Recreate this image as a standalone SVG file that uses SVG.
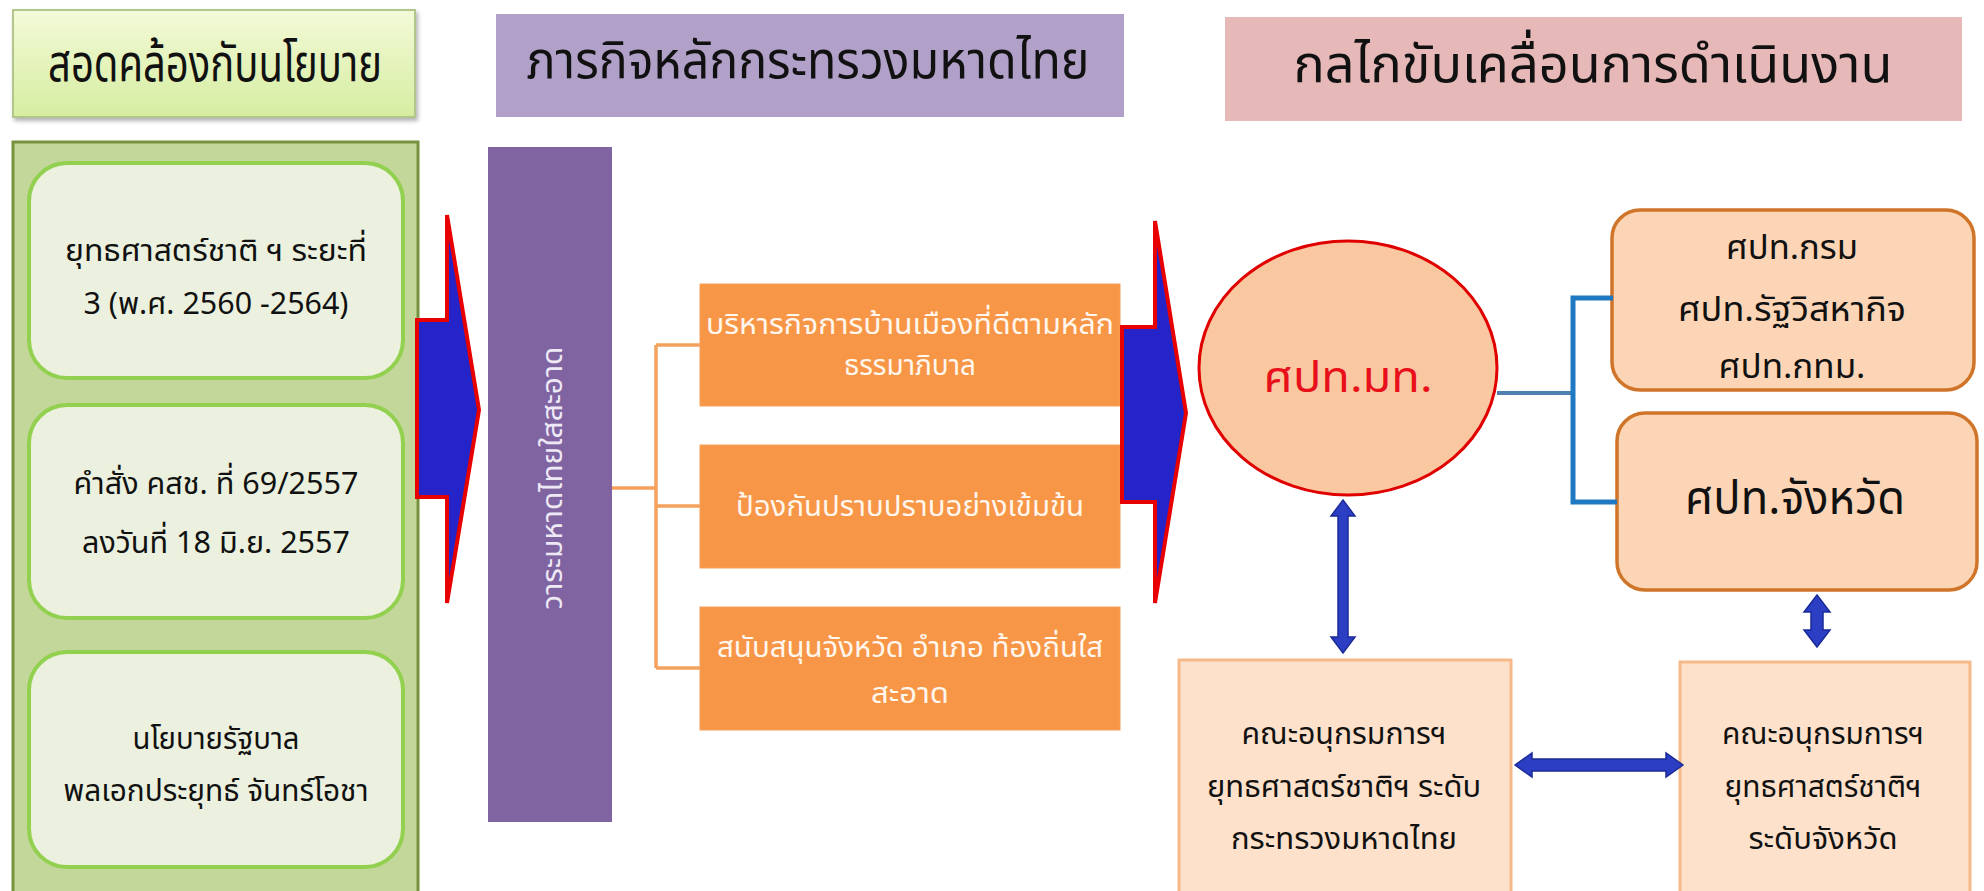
<svg xmlns="http://www.w3.org/2000/svg" width="1984" height="891" viewBox="0 0 1984 891">
  <defs>
    <linearGradient id="gGreen" x1="0" y1="0" x2="0" y2="1">
      <stop offset="0" stop-color="#f3fad8"/>
      <stop offset="1" stop-color="#d6eda0"/>
    </linearGradient>
    <filter id="shadow" x="-5%" y="-10%" width="115%" height="130%">
      <feDropShadow dx="2" dy="3" stdDeviation="2" flood-color="#000" flood-opacity="0.3"/>
    </filter>
  </defs>
  <style>
    text { font-family: "Noto Sans Thai", "Noto Sans Thai UI", Tahoma, "Noto Sans", "DejaVu Sans", sans-serif; text-anchor: middle; }
    .hdr { font-size: 52px; fill: #111; }
    .lt { font-size: 31px; fill: #111; }
    .ot { font-size: 29px; fill: #fff6ee; }
    .rt { font-size: 33px; fill: #111; }
    .bt { font-size: 30px; fill: #111; }
    .inner { fill: #ebf1de; stroke: #92d050; stroke-width: 4; }
    .obox { fill: #f79646; stroke: #f5a05a; stroke-width: 1; }
    .pbox { fill: #fbd5b5; stroke: #cf7428; stroke-width: 3.5; }
    .lbox { fill: #fde1cb; stroke: #f5b98a; stroke-width: 3; }
    .bigarrow { fill: #2424c8; stroke: #e80000; stroke-width: 4; stroke-linejoin: miter; }
    .darrow { fill: #2b3ec4; stroke: #1b2a98; stroke-width: 1.5; }
  </style>

  <!-- Header boxes -->
  <g id="header-policy">
    <rect x="13" y="10" width="402" height="107" fill="url(#gGreen)" stroke="#b2c58a" stroke-width="2" filter="url(#shadow)"/>
    <text class="hdr" x="215" y="81" textLength="334" lengthAdjust="spacingAndGlyphs">สอดคล้องกับนโยบาย</text>
  </g>
  <g id="header-mission">
    <rect x="496" y="14" width="628" height="103" fill="#b1a0c7"/>
    <text class="hdr" x="808" y="78" textLength="563" lengthAdjust="spacingAndGlyphs">ภารกิจหลักกระทรวงมหาดไทย</text>
  </g>
  <g id="header-mechanism">
    <rect x="1225" y="17" width="737" height="104" fill="#e6b9b8"/>
    <text class="hdr" x="1593" y="82" textLength="599" lengthAdjust="spacingAndGlyphs">กลไกขับเคลื่อนการดำเนินงาน</text>
  </g>

  <!-- Left panel -->
  <g id="policy-panel">
    <rect x="13" y="142" width="405" height="760" fill="#c4d79b" stroke="#76923c" stroke-width="3"/>
  </g>
  <g id="policy-strategy">
    <rect class="inner" x="29" y="163" width="374" height="215" rx="38"/>
    <text class="lt" x="216" y="261" textLength="302" lengthAdjust="spacingAndGlyphs">ยุทธศาสตร์ชาติ ฯ ระยะที่</text>
    <text class="lt" x="216" y="314" textLength="265" lengthAdjust="spacingAndGlyphs">3 (พ.ศ. 2560 -2564)</text>
  </g>
  <g id="policy-order">
    <rect class="inner" x="29" y="405" width="374" height="213" rx="38"/>
    <text class="lt" x="216" y="494" textLength="285" lengthAdjust="spacingAndGlyphs">คำสั่ง คสช. ที่ 69/2557</text>
    <text class="lt" x="216" y="553" textLength="268" lengthAdjust="spacingAndGlyphs">ลงวันที่ 18 มิ.ย. 2557</text>
  </g>
  <g id="policy-government">
    <rect class="inner" x="29" y="652" width="374" height="215" rx="38"/>
    <text class="lt" x="216" y="749" textLength="167" lengthAdjust="spacingAndGlyphs">นโยบายรัฐบาล</text>
    <text class="lt" x="216" y="801" textLength="305" lengthAdjust="spacingAndGlyphs">พลเอกประยุทธ์  จันทร์โอชา</text>
  </g>

  <!-- Purple bar -->
  <g id="agenda">
    <rect x="488" y="147" width="124" height="675" fill="#8064a2"/>
    <text x="0" y="0" font-size="28" fill="#eee8f5" transform="translate(562 478) rotate(-90)" textLength="263" lengthAdjust="spacingAndGlyphs">วาระมหาดไทยใสสะอาด</text>
  </g>

  <!-- Orange boxes -->
  <g id="mission-governance">
    <rect class="obox" x="700" y="284" width="420" height="122"/>
    <text class="ot" x="910" y="334" textLength="408" lengthAdjust="spacingAndGlyphs">บริหารกิจการบ้านเมืองที่ดีตามหลัก</text>
    <text class="ot" x="910" y="375" textLength="132" lengthAdjust="spacingAndGlyphs">ธรรมาภิบาล</text>
  </g>
  <g id="mission-prevention">
    <rect class="obox" x="700" y="445" width="420" height="123"/>
    <text class="ot" x="910" y="516" textLength="348" lengthAdjust="spacingAndGlyphs">ป้องกันปราบปราบอย่างเข้มข้น</text>
  </g>
  <g id="mission-support">
    <rect class="obox" x="700" y="607" width="420" height="123"/>
    <text class="ot" x="910" y="657" textLength="386" lengthAdjust="spacingAndGlyphs">สนับสนุนจังหวัด อำเภอ ท้องถิ่นใส</text>
    <text class="ot" x="910" y="703" textLength="78" lengthAdjust="spacingAndGlyphs">สะอาด</text>
  </g>

  <!-- Center circle -->
  <g id="center-moi">
    <ellipse cx="1348" cy="368" rx="149" ry="127" fill="#fac8a0" stroke="#e00000" stroke-width="3"/>
    <text x="1348" y="392" font-size="42" fill="#e8101a" textLength="169" lengthAdjust="spacingAndGlyphs">ศปท.มท.</text>
  </g>

  <!-- Right boxes -->
  <g id="dept-centers">
    <rect class="pbox" x="1612" y="210" width="362" height="180" rx="28"/>
    <text class="rt" x="1792" y="259" textLength="132" lengthAdjust="spacingAndGlyphs">ศปท.กรม</text>
    <text class="rt" x="1792" y="321" textLength="228" lengthAdjust="spacingAndGlyphs">ศปท.รัฐวิสหากิจ</text>
    <text class="rt" x="1792" y="378" textLength="147" lengthAdjust="spacingAndGlyphs">ศปท.กทม.</text>
  </g>
  <g id="province-center">
    <rect class="pbox" x="1617" y="413" width="360" height="177" rx="28"/>
    <text x="1795" y="514" font-size="46" fill="#111" textLength="220" lengthAdjust="spacingAndGlyphs">ศปท.จังหวัด</text>
  </g>

  <!-- Bottom boxes -->
  <g id="committee-ministry">
    <rect class="lbox" x="1179" y="660" width="332" height="240"/>
    <text class="bt" x="1344" y="744" textLength="205" lengthAdjust="spacingAndGlyphs">คณะอนุกรมการฯ</text>
    <text class="bt" x="1344" y="797" textLength="274" lengthAdjust="spacingAndGlyphs">ยุทธศาสตร์ชาติฯ  ระดับ</text>
    <text class="bt" x="1344" y="849" textLength="226" lengthAdjust="spacingAndGlyphs">กระทรวงมหาดไทย</text>
  </g>
  <g id="committee-province">
    <rect class="lbox" x="1680" y="662" width="290" height="240"/>
    <text class="bt" x="1823" y="744" textLength="202" lengthAdjust="spacingAndGlyphs">คณะอนุกรมการฯ</text>
    <text class="bt" x="1823" y="797" textLength="197" lengthAdjust="spacingAndGlyphs">ยุทธศาสตร์ชาติฯ</text>
    <text class="bt" x="1823" y="849" textLength="149" lengthAdjust="spacingAndGlyphs">ระดับจังหวัด</text>
  </g>

  <!-- Connectors -->
  <g id="connectors">
    <polygon class="bigarrow" points="417,320 447,320 447,215 479,410 447,603 447,497 417,497"/>
    <polygon class="bigarrow" points="1122,327 1155,327 1155,221 1186,413 1155,603 1155,502 1122,502"/>
    <path d="M612,488 H656 M656,345 V668 M656,345 H700 M656,506 H700 M656,668 H700" fill="none" stroke="#f4a15e" stroke-width="3.5"/>
    <path d="M1497,393 H1573" fill="none" stroke="#5080b0" stroke-width="4"/>
    <path d="M1613,298 H1573 V502 H1617" fill="none" stroke="#1f78c1" stroke-width="5"/>
    <polygon class="darrow" points="1343,500 1355,516 1348,516 1348,637 1355,637 1343,653 1331,637 1338,637 1338,516 1331,516"/>
    <polygon class="darrow" points="1817,595 1830,612 1823,612 1823,630 1830,630 1817,647 1804,630 1811,630 1811,612 1804,612"/>
    <polygon class="darrow" points="1515,765 1532,753 1532,759 1666,759 1666,753 1683,765 1666,777 1666,771 1532,771 1532,777"/>
  </g>
</svg>
